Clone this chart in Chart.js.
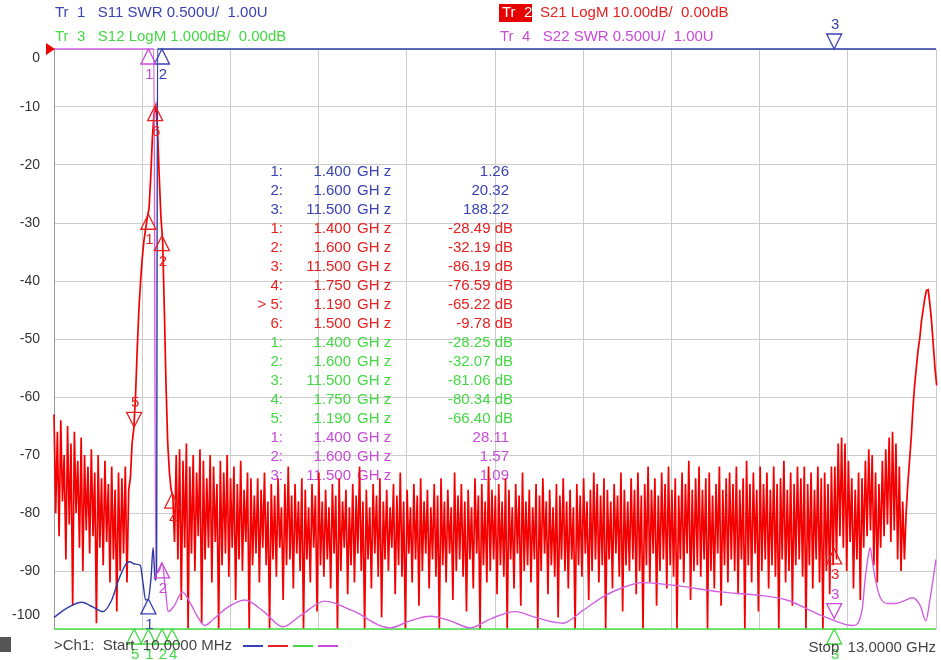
<!DOCTYPE html>
<html>
<head>
<meta charset="utf-8">
<script src="https://cdn.jsdelivr.net/npm/chart.js@4.4.0/dist/chart.umd.min.js"></script>
<style>
  html, body { margin: 0; padding: 0; background: #fff; }
  #wrap { width: 941px; height: 660px; position: relative; }
</style>
</head>
<body>
<div id="wrap"><canvas id="vna"></canvas></div>
<script>
// sweep settings (GHz)
const sweepStart = 0.01;
const sweepStop = 13.0;
const s21Step = 0.025;

const yTickLabels = [0, -10, -20, -30, -40, -50, -60, -70, -80, -90, -100];

// Tr1 S11 SWR (ref 1.00U at bottom, 0.5U/div)
const s11Freq = [0.01, 0.2, 0.42, 0.58, 0.73, 0.86, 0.96, 1.06, 1.12, 1.2, 1.28, 1.32, 1.36, 1.4, 1.44, 1.47, 1.5, 1.52, 1.535, 1.6, 3.0, 6.0, 9.0, 11.5, 13.0];
const s11Swr  = [1.10, 1.18, 1.23, 1.19, 1.15, 1.25, 1.42, 1.55, 1.58, 1.56, 1.55, 1.40, 1.25, 1.26, 1.45, 1.70, 1.42, 1.5, 9.0, 20.32, 60, 120, 160, 188.22, 150];

// Tr4 S22 SWR
const s22Freq = [0.01, 0.5, 1.0, 1.4, 1.48, 1.51, 1.56, 1.6, 1.65, 1.69, 1.78, 1.9, 2.02, 2.13, 2.23, 2.35, 2.55, 2.82, 3.1, 3.38, 3.65, 4.0, 4.4, 4.96, 5.25, 5.55, 5.85, 6.14, 6.45, 6.8, 7.1, 7.5, 7.8, 8.1, 8.4, 8.68, 9.23, 9.82, 10.41, 10.8, 11.3, 11.66, 11.78, 11.91, 11.96, 12.0, 12.03, 12.06, 12.1, 12.18, 12.3, 12.4, 12.52, 12.65, 12.77, 12.85, 12.91, 13.0];
const s22Swr  = [30, 30, 30, 28.11, 12, 1.48, 1.50, 1.57, 1.35, 1.15, 1.2, 1.32, 1.22, 1.10, 1.03, 1.08, 1.18, 1.25, 1.15, 1.02, 1.12, 1.24, 1.16, 1.01, 1.07, 1.11, 1.07, 1.01, 1.09, 1.15, 1.10, 1.05, 1.16, 1.28, 1.36, 1.40, 1.37, 1.32, 1.29, 1.25, 1.12, 1.04, 1.03, 1.16, 1.45, 1.62, 1.70, 1.6, 1.45, 1.27, 1.22, 1.22, 1.24, 1.27, 1.2, 1.07, 1.25, 1.6];

// Tr3 S12 LogM (1 dB/div, clipped below the grid)
const s12Freq = [0.01, 1.19, 1.4, 1.5, 1.6, 1.75, 11.5, 13.0];
const s12Db   = [-70, -66.40, -28.25, -15, -32.07, -80.34, -81.06, -75];

// Tr2 S21 LogM sweep, one value every 0.025 GHz from 10 MHz
const s21Db = [
  -63,-80,-66,-84,-64,-78,-70,-88,-65,-82,-68,-96,-66,-80,-71,-86,-67,-90,-70,-83,
  -72,-87,-69,-84,-73,-99,-70,-86,-74,-89,-71,-85,-75,-92,-72,-88,-76,-97,-73,-90,
  -74,-87,-72,-92,-76,
  -74,-68,-65.5,-60,-52,-45,-40,-36,-33,-31,-29,-27.5,-22,-15,-11,-9.8,-14,-22,-29,-33,-45,-58,-68,-73,-76,-77,
  -85,-70,-88,-69,-95,-71,-86,-68,-100,
  -72,-87,-70,-90,-73,-84,-69,-99,-71,-88,-74,-86,-70,-92,-72,-85,-75,-100,-71,-89,
  -73,-87,-70,-91,-74,-86,-72,-95,-75,-88,-71,-90,-76,-85,-73,-100,-74,-89,-77,-87,
  -74,-92,-76,-86,-73,-89,-78,-100,-75,-88,-77,-91,-74,-86,-79,-95,-75,-89,-72,-88,
  -77,-93,-75,-87,-78,-90,-74,-100,-76,-88,-79,-92,-75,-86,-77,-97,-73,-89,-78,-91,
  -76,-88,-79,-93,-75,-87,-77,-100,-74,-90,-78,-86,-76,-94,-79,-89,-75,-92,-77,-87,
  -72,-90,-78,-100,-76,-88,-79,-93,-75,-87,-77,-91,-74,-98,-78,-88,-76,-90,-79,-86,
  -75,-94,-77,-89,-73,-91,-78,-100,-76,-87,-79,-92,-75,-88,-77,-96,-74,-90,-78,-87,
  -76,-93,-79,-88,-75,-91,-77,-100,-74,-89,-78,-92,-76,-87,-79,-95,-73,-90,-77,-88,
  -75,-91,-78,-97,-76,-88,-79,-93,-74,-87,-77,-100,-75,-89,-78,-92,-72,-90,-76,-88,
  -77,-94,-75,-89,-78,-91,-74,-100,-76,-88,-79,-93,-75,-87,-77,-96,-73,-90,-78,-89,
  -76,-92,-79,-88,-75,-100,-77,-90,-74,-87,-78,-94,-76,-89,-79,-91,-75,-98,-77,-88,
  -74,-90,-78,-93,-76,-88,-79,-100,-75,-89,-77,-91,-74,-87,-78,-95,-76,-90,-73,-88,
  -75,-92,-77,-89,-74,-100,-76,-88,-78,-93,-75,-87,-77,-91,-73,-97,-76,-89,-78,-90,
  -74,-88,-76,-94,-73,-90,-77,-100,-75,-89,-72,-92,-76,-87,-74,-96,-77,-90,-73,-88,
  -75,-93,-72,-89,-76,-91,-74,-100,-77,-88,-73,-92,-75,-87,-71,-95,-76,-90,-74,-89,
  -72,-91,-76,-88,-74,-100,-73,-90,-77,-93,-75,-87,-72,-96,-76,-89,-74,-92,-73,-88,
  -75,-90,-72,-94,-76,-88,-74,-100,-71,-89,-75,-92,-73,-87,-76,-97,-72,-90,-75,-88,
  -73,-93,-76,-89,-72,-91,-75,-100,-74,-88,-71,-92,-76,-90,-73,-96,-75,-89,-72,-88,
  -74,-91,-72,-100,-75,-89,-73,-93,-76,-88,-72,-92,-74,-100,-73,-90,-75,-94,-72,-89,
  -72,-88,-68,-84,-67,-86,-68,-90,-71,-85,-74,-93,-76,-88,-73,-95,-74,-86,-71,-84,
  -69,-83,-70,-89,-73,-92,-75,-86,-71,-84,-69,-82,-67,-85,-66,-83,-68,-88,-72,-90,
  -78,-88,-80,-75,-71,-67,-62,-58,-55,-52,-50,-47,-45,-43,-41.6,-41.5,-44,-47,-51,-55,-58
];
const s21Freq = s21Db.map((v, i) => sweepStart + i * s21Step);

// markers (GHz / readout)
const s11MkFreq = [1.4, 1.6, 11.5];
const s11MkVal  = [1.26, 20.32, 188.22];
const s21MkFreq = [1.4, 1.6, 11.5, 1.75, 1.19, 1.5];
const s21MkVal  = [-28.49, -32.19, -86.19, -76.59, -65.22, -9.78];
const s12MkFreq = [1.4, 1.6, 11.5, 1.75, 1.19];
const s12MkVal  = [-28.25, -32.07, -81.06, -80.34, -66.40];
const s22MkFreq = [1.4, 1.6, 11.5];
const s22MkVal  = [28.11, 1.57, 1.09];

const cBlue = '#3a42b4', cRed = '#e82020', cGreen = '#44d844', cMag = '#c84ad8';
const fontName = '"Liberation Sans", Arial, sans-serif';

const clamp = (v, lo, hi) => Math.min(Math.max(v, lo), hi);
const pts = (fs, vs, lo, hi) => fs.map((f, i) => ({ x: f, y: clamp(vs[i], lo, hi) }));

const traces = [
  { name: 's11', freqs: s11MkFreq, vals: s11MkVal, axis: 'ySwr', color: cBlue, down: [3], unit: '' },
  { name: 's21', freqs: s21MkFreq, vals: s21MkVal, axis: 'y', color: cRed, down: [5], unit: ' dB', active: 5 },
  { name: 's12', freqs: s12MkFreq, vals: s12MkVal, axis: 'yS12', color: cGreen, down: [], unit: ' dB' },
  { name: 's22', freqs: s22MkFreq, vals: s22MkVal, axis: 'ySwr', color: cMag, down: [3], unit: '' }
];

function text(ctx, s, x, y, color, align, size) {
  ctx.font = size + 'px ' + fontName;
  ctx.fillStyle = color;
  ctx.textAlign = align;
  ctx.textBaseline = 'middle';
  ctx.fillText(s, x, y);
}

const vnaOverlay = {
  id: 'vnaOverlay',
  beforeDatasetsDraw(chart) {
    // marker readout table
    const ctx = chart.ctx;
    let row = 0;
    ctx.save();
    traces.forEach(t => {
      t.freqs.forEach((f, i) => {
        const y = 172 + row * 19;
        const num = i + 1;
        text(ctx, (t.active === num ? '> ' : '') + num + ':', 283, y, t.color, 'right', 15);
        text(ctx, f.toFixed(3), 351, y, t.color, 'right', 15);
        text(ctx, 'GH z', 357, y, t.color, 'left', 15);
        text(ctx, t.vals[i].toFixed(2) + t.unit, t.unit ? 513 : 509, y, t.color, 'right', 15);
        row++;
      });
    });
    ctx.restore();
  },
  afterDatasetsDraw(chart) {
    const ctx = chart.ctx;
    const xs = chart.scales.x;
    ctx.save();
    ctx.lineWidth = 1.3;
    traces.forEach(t => {
      const ys = chart.scales[t.axis];
      t.freqs.forEach((f, i) => {
        const num = i + 1;
        const px = xs.getPixelForValue(f);
        const py = ys.getPixelForValue(clamp(t.vals[i], ys.min, ys.max));
        const down = t.down.includes(num);
        const h = down ? -15 : 15;
        ctx.strokeStyle = t.color;
        ctx.beginPath();
        ctx.moveTo(px, py);
        ctx.lineTo(px - 7.5, py + h);
        ctx.lineTo(px + 7.5, py + h);
        ctx.closePath();
        ctx.stroke();
        text(ctx, String(num), px + 1, py + (down ? -24 : 26), t.color, 'center', 15);
      });
    });
    ctx.restore();
  },
  afterDraw(chart) {
    const ctx = chart.ctx;
    const ys = chart.scales.y;
    const area = chart.chartArea;
    ctx.save();
    // y labels
    yTickLabels.forEach(v => {
      const y = clamp(ys.getPixelForValue(v), area.top + 9, area.bottom - 14);
      text(ctx, String(v), 40, y, '#333', 'right', 14);
    });
    // reference position arrow
    const ry = ys.getPixelForValue(0);
    ctx.fillStyle = '#ee0000';
    ctx.beginPath();
    ctx.moveTo(46, ry - 6);
    ctx.lineTo(55, ry);
    ctx.lineTo(46, ry + 6);
    ctx.closePath();
    ctx.fill();
    // trace headers
    text(ctx, 'Tr  1   S11 SWR 0.500U/  1.00U', 55, 13, cBlue, 'left', 15);
    text(ctx, 'Tr  3   S12 LogM 1.000dB/  0.00dB', 55, 37, cGreen, 'left', 15);
    ctx.fillStyle = '#e60000';
    ctx.fillRect(499, 4, 33, 18);
    text(ctx, 'Tr  2', 502, 13, '#ffffff', 'left', 15);
    text(ctx, 'S21 LogM 10.00dB/  0.00dB', 540, 13, cRed, 'left', 15);
    text(ctx, 'Tr  4   S22 SWR 0.500U/  1.00U', 500, 37, cMag, 'left', 15);
    // footer
    ctx.fillStyle = '#555';
    ctx.fillRect(0, 637, 11, 15);
    text(ctx, '>Ch1:  Start  10.0000 MHz', 54, 646, '#444', 'left', 15);
    [cBlue, cRed, cGreen, cMag].forEach((c, k) => {
      ctx.strokeStyle = c;
      ctx.lineWidth = 2;
      ctx.beginPath();
      ctx.moveTo(243 + k * 25, 646);
      ctx.lineTo(263 + k * 25, 646);
      ctx.stroke();
    });
    text(ctx, 'Stop  13.0000 GHz', 936, 648, '#444', 'right', 15);
    ctx.restore();
  }
};

const xGridTicks = [];
for (let k = 0; k <= 10; k++) xGridTicks.push(sweepStart + k * (sweepStop - sweepStart) / 10);

new Chart(document.getElementById('vna'), {
  type: 'line',
  data: {
    datasets: [
      { label: 'S11', data: pts(s11Freq, s11Swr, 1, 6), yAxisID: 'ySwr', borderColor: '#2e3aa6', borderWidth: 1.4, cubicInterpolationMode: 'monotone', clip: 4 },
      { label: 'S22', data: pts(s22Freq, s22Swr, 1, 6), yAxisID: 'ySwr', borderColor: '#d060e0', borderWidth: 1.4, cubicInterpolationMode: 'monotone', clip: 4 },
      { label: 'S12', data: pts(s12Freq, s12Db, -10, 0), yAxisID: 'yS12', borderColor: '#48e048', borderWidth: 1.6, clip: 4 },
      { label: 'S21', data: pts(s21Freq, s21Db, -100, 0), yAxisID: 'y', borderColor: '#f50000', borderWidth: 1.7, tension: 0, clip: 4 }
    ]
  },
  options: {
    responsive: true,
    maintainAspectRatio: false,
    animation: false,
    events: [],
    layout: { padding: { left: 54, top: 49, right: 5, bottom: 31 } },
    elements: { point: { radius: 0 } },
    plugins: { legend: { display: false }, tooltip: { enabled: false } },
    scales: {
      x: {
        type: 'linear', min: sweepStart, max: sweepStop,
        afterBuildTicks: s => { s.ticks = xGridTicks.map(v => ({ value: v })); },
        afterFit: s => { s.height = 0; },
        ticks: { display: false },
        grid: { color: '#cccccc', drawTicks: false },
        border: { display: false }
      },
      y: {
        min: -100, max: 0,
        afterFit: s => { s.width = 0; },
        ticks: { display: false, stepSize: 10 },
        grid: { color: '#cccccc', drawTicks: false },
        border: { color: '#999999' }
      },
      ySwr: { display: false, min: 1, max: 6 },
      yS12: { display: false, min: -10, max: 0 }
    }
  },
  plugins: [vnaOverlay]
});
</script>
</body>
</html>
